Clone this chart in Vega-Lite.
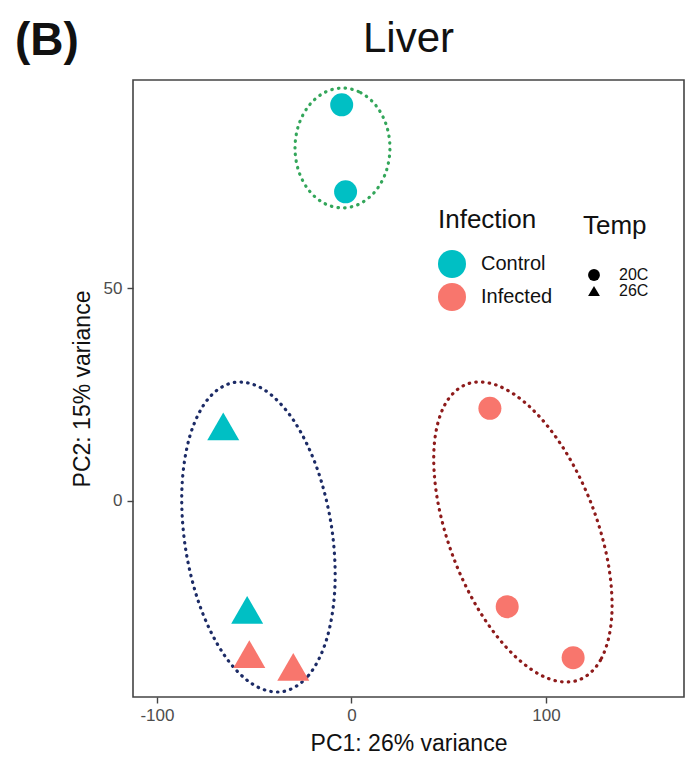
{
  "$schema": "https://vega.github.io/schema/vega-lite/v6.json",
  "width": 551,
  "height": 617,
  "autosize": {"type": "none"},
  "padding": {"left": 133, "top": 80, "right": 2, "bottom": 61},
  "background": "white",
  "datasets": {
    "pts": [
      {"PC1": -5.0, "PC2": 93.15, "Infection": "Control", "Temp": "20C"},
      {"PC1": -3.0, "PC2": 72.7, "Infection": "Control", "Temp": "20C"},
      {"PC1": -65.9, "PC2": 17.5, "Infection": "Control", "Temp": "26C"},
      {"PC1": -53.6, "PC2": -25.7, "Infection": "Control", "Temp": "26C"},
      {"PC1": -52.5, "PC2": -36.1, "Infection": "Infected", "Temp": "26C"},
      {"PC1": -29.9, "PC2": -39.1, "Infection": "Infected", "Temp": "26C"},
      {"PC1": 71.2, "PC2": 21.75, "Infection": "Infected", "Temp": "20C"},
      {"PC1": 80.1, "PC2": -24.95, "Infection": "Infected", "Temp": "20C"},
      {"PC1": 114.0, "PC2": -36.96, "Infection": "Infected", "Temp": "20C"}
    ],
    "ell": [
      {"group": "g1", "k": 0, "PC1": -4.6, "PC2": 97.1},
      {"group": "g1", "k": 1, "PC1": 4.74, "PC2": 96.03},
      {"group": "g1", "k": 2, "PC1": 12.65, "PC2": 92.97},
      {"group": "g1", "k": 3, "PC1": 17.94, "PC2": 88.4},
      {"group": "g1", "k": 4, "PC1": 19.8, "PC2": 83.0},
      {"group": "g1", "k": 5, "PC1": 17.94, "PC2": 77.6},
      {"group": "g1", "k": 6, "PC1": 12.65, "PC2": 73.03},
      {"group": "g1", "k": 7, "PC1": 4.74, "PC2": 69.97},
      {"group": "g1", "k": 8, "PC1": -4.6, "PC2": 68.9},
      {"group": "g1", "k": 9, "PC1": -13.94, "PC2": 69.97},
      {"group": "g1", "k": 10, "PC1": -21.85, "PC2": 73.03},
      {"group": "g1", "k": 11, "PC1": -27.14, "PC2": 77.6},
      {"group": "g1", "k": 12, "PC1": -29.0, "PC2": 83.0},
      {"group": "g1", "k": 13, "PC1": -27.14, "PC2": 88.4},
      {"group": "g1", "k": 14, "PC1": -21.85, "PC2": 92.97},
      {"group": "g1", "k": 15, "PC1": -13.94, "PC2": 96.03},
      {"group": "g2", "k": 0, "PC1": -35.54, "PC2": -44.94},
      {"group": "g2", "k": 1, "PC1": -22.12, "PC2": -41.16},
      {"group": "g2", "k": 2, "PC1": -12.61, "PC2": -32.41},
      {"group": "g2", "k": 3, "PC1": -8.46, "PC2": -20.03},
      {"group": "g2", "k": 4, "PC1": -10.3, "PC2": -5.9},
      {"group": "g2", "k": 5, "PC1": -17.84, "PC2": 7.83},
      {"group": "g2", "k": 6, "PC1": -29.95, "PC2": 19.05},
      {"group": "g2", "k": 7, "PC1": -44.78, "PC2": 26.08},
      {"group": "g2", "k": 8, "PC1": -60.06, "PC2": 27.84},
      {"group": "g2", "k": 9, "PC1": -73.48, "PC2": 24.06},
      {"group": "g2", "k": 10, "PC1": -82.99, "PC2": 15.31},
      {"group": "g2", "k": 11, "PC1": -87.14, "PC2": 2.93},
      {"group": "g2", "k": 12, "PC1": -85.3, "PC2": -11.2},
      {"group": "g2", "k": 13, "PC1": -77.76, "PC2": -24.93},
      {"group": "g2", "k": 14, "PC1": -65.65, "PC2": -36.15},
      {"group": "g2", "k": 15, "PC1": -50.82, "PC2": -43.18},
      {"group": "g3", "k": 0, "PC1": 117.16, "PC2": -42.14},
      {"group": "g3", "k": 1, "PC1": 128.55, "PC2": -37.11},
      {"group": "g3", "k": 2, "PC1": 133.8, "PC2": -27.57},
      {"group": "g3", "k": 3, "PC1": 132.1, "PC2": -14.94},
      {"group": "g3", "k": 4, "PC1": 123.71, "PC2": -1.155},
      {"group": "g3", "k": 5, "PC1": 109.92, "PC2": 11.68},
      {"group": "g3", "k": 6, "PC1": 92.8, "PC2": 21.62},
      {"group": "g3", "k": 7, "PC1": 74.99, "PC2": 27.13},
      {"group": "g3", "k": 8, "PC1": 59.18, "PC2": 27.4},
      {"group": "g3", "k": 9, "PC1": 47.79, "PC2": 22.37},
      {"group": "g3", "k": 10, "PC1": 42.54, "PC2": 12.83},
      {"group": "g3", "k": 11, "PC1": 44.24, "PC2": 0.2},
      {"group": "g3", "k": 12, "PC1": 52.63, "PC2": -13.59},
      {"group": "g3", "k": 13, "PC1": 66.42, "PC2": -26.42},
      {"group": "g3", "k": 14, "PC1": 83.54, "PC2": -36.36},
      {"group": "g3", "k": 15, "PC1": 101.35, "PC2": -41.87}
    ]
  },
  "layer": [
    {
      "data": {"name": "ell"},
      "mark": {"type": "line", "interpolate": "cardinal-closed", "strokeDash": [0.5, 6.2], "strokeCap": "round", "strokeWidth": 3.2},
      "encoding": {
        "x": {"field": "PC1", "type": "quantitative", "scale": {"domain": [-112.3, 171], "nice": false, "zero": false}, "axis": {"title": "PC1: 26% variance", "values": [-100, 0, 100], "labelExpr": "datum.value + ''"}},
        "y": {"field": "PC2", "type": "quantitative", "scale": {"domain": [-46.2, 99], "nice": false, "zero": false}, "axis": {"title": "PC2: 15% variance", "values": [0, 50]}},
        "stroke": {"field": "group", "type": "nominal", "scale": {"domain": ["g1", "g2", "g3"], "range": ["#33a65a", "#1c2b66", "#8e1b1b"]}, "legend": null},
        "order": {"field": "k", "type": "quantitative"}
      }
    },
    {
      "data": {"name": "pts"},
      "transform": [{"filter": "datum.Temp == '20C'"}],
      "mark": {"type": "point", "filled": true, "opacity": 1, "strokeWidth": 0, "size": 529},
      "encoding": {
        "x": {"field": "PC1", "type": "quantitative", "axis": {"title": "PC1: 26% variance", "values": [-100, 0, 100], "labelExpr": "datum.value + ''"}},
        "y": {"field": "PC2", "type": "quantitative", "axis": {"title": "PC2: 15% variance", "values": [0, 50]}},
        "color": {"field": "Infection", "type": "nominal", "scale": {"domain": ["Control", "Infected"], "range": ["#00BFC4", "#F8766D"]},
          "legend": {"title": "Infection", "orient": "none", "legendX": 305, "legendY": 127, "symbolType": "circle", "symbolSize": 784, "symbolStrokeWidth": 0, "titleFontSize": 26, "titleFontWeight": "normal", "titleColor": "#111", "labelFontSize": 20, "labelColor": "#111", "titlePadding": 17, "rowPadding": 5, "labelOffset": 15, "padding": 0}},
        "shape": {"field": "Temp", "type": "nominal", "scale": {"domain": ["20C", "26C"], "range": ["circle", "triangle-up"]},
          "legend": {"title": "Temp", "orient": "none", "legendX": 450, "legendY": 133, "symbolSize": 140, "symbolFillColor": "black", "symbolStrokeColor": "black", "symbolStrokeWidth": 0, "symbolOffset": 3, "titleFontSize": 26, "titleFontWeight": "normal", "titleColor": "#111", "labelFontSize": 16, "labelColor": "#111", "titlePadding": 28, "rowPadding": 0, "labelOffset": 17, "padding": 0}}
      }
    },
    {
      "data": {"name": "pts"},
      "transform": [{"filter": "datum.Temp == '26C'"}],
      "mark": {"type": "point", "filled": true, "opacity": 1, "strokeWidth": 0, "size": 1024},
      "encoding": {
        "x": {"field": "PC1", "type": "quantitative", "axis": {"title": "PC1: 26% variance", "values": [-100, 0, 100], "labelExpr": "datum.value + ''"}},
        "y": {"field": "PC2", "type": "quantitative", "axis": {"title": "PC2: 15% variance", "values": [0, 50]}},
        "color": {"field": "Infection", "type": "nominal"},
        "shape": {"field": "Temp", "type": "nominal"}
      }
    },
    {
      "data": {"values": [{"label": "(B)"}]},
      "mark": {"type": "text", "align": "left", "baseline": "alphabetic", "fontSize": 46, "fontWeight": "bold", "font": "Liberation Sans", "color": "#111"},
      "encoding": {
        "x": {"datum": -173, "type": "quantitative", "axis": {"title": "PC1: 26% variance", "values": [-100, 0, 100], "labelExpr": "datum.value + ''"}},
        "y": {"datum": 104.9, "type": "quantitative", "axis": {"title": "PC2: 15% variance", "values": [0, 50]}},
        "text": {"field": "label"}
      }
    },
    {
      "data": {"values": [{"label": "Liver"}]},
      "mark": {"type": "text", "align": "center", "baseline": "alphabetic", "fontSize": 42, "fontWeight": "normal", "font": "Liberation Sans", "color": "#111"},
      "encoding": {
        "x": {"datum": 29.35, "type": "quantitative", "axis": {"title": "PC1: 26% variance", "values": [-100, 0, 100], "labelExpr": "datum.value + ''"}},
        "y": {"datum": 105.6, "type": "quantitative", "axis": {"title": "PC2: 15% variance", "values": [0, 50]}},
        "text": {"field": "label"}
      }
    }
  ],
  "config": {
    "font": "Liberation Sans",
    "view": {"stroke": "#444", "strokeWidth": 1.6},
    "axis": {"grid": false, "domain": false, "tickColor": "#444", "tickWidth": 1.4, "tickSize": 6, "labelColor": "#4d4d4d", "labelFontSize": 17, "labelFont": "Liberation Sans", "titleFont": "Liberation Sans", "titleFontSize": 23, "titleFontWeight": "normal", "titleColor": "#111"},
    "axisX": {"labelPadding": 4, "titlePadding": 9},
    "axisY": {"labelPadding": 5, "titlePadding": 9},
    "legend": {"labelFont": "Liberation Sans", "titleFont": "Liberation Sans"}
  }
}
